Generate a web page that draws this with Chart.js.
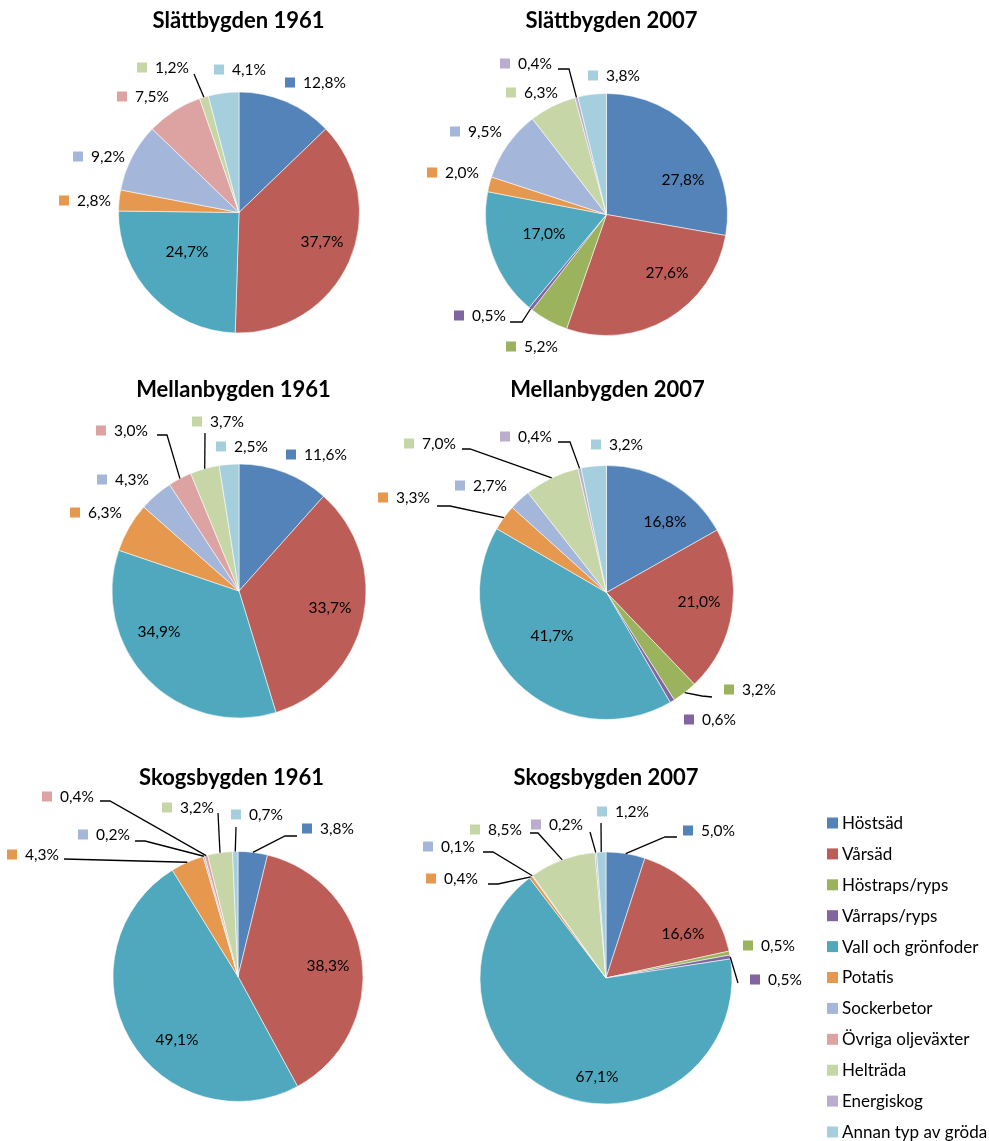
<!DOCTYPE html>
<html lang="sv">
<head>
<meta charset="utf-8">
<title>Grödor 1961 och 2007</title>
<script src="https://cdn.jsdelivr.net/npm/chart.js@4.4.1/dist/chart.umd.min.js"></script>
<style>
  html, body { margin: 0; padding: 0; background: #fff; }
  #wrap { position: relative; width: 989px; height: 1141px; }
  #wrap canvas { position: absolute; left: 0; top: 0; }
</style>
</head>
<body>
<div id="wrap"></div>
<script>
// kategorier och färger
const kategorier = ['Höstsäd', 'Vårsäd', 'Höstraps/ryps', 'Vårraps/ryps', 'Vall och grönfoder', 'Potatis',
  'Sockerbetor', 'Övriga oljeväxter', 'Helträda', 'Energiskog', 'Annan typ av gröda'];
const farger = ['#5383B8', '#BC5D57', '#9BB35D', '#8165A1', '#4FA8BD', '#E6984F',
  '#A4B6D9', '#DCA3A2', '#C6D6A6', '#BAADCD', '#A5CFDD'];

// andel av arealen (%), 0 = saknas
const slatt1961 = [12.8, 37.7, 0, 0, 24.7, 2.8, 9.2, 7.5, 1.2, 0, 4.1];
const slatt2007 = [27.8, 27.6, 5.2, 0.5, 17.0, 2.0, 9.5, 0, 6.3, 0.4, 3.8];
const mellan1961 = [11.6, 33.7, 0, 0, 34.9, 6.3, 4.3, 3.0, 3.7, 0, 2.5];
const mellan2007 = [16.8, 21.0, 3.2, 0.6, 41.7, 3.3, 2.7, 0, 7.0, 0.4, 3.2];
const skog1961 = [3.8, 38.3, 0, 0, 49.1, 4.3, 0.2, 0.4, 3.2, 0, 0.7];
const skog2007 = [5.0, 16.6, 0.5, 0.5, 67.1, 0.4, 0.1, 0, 8.5, 0.2, 1.2];

const W = 989, H = 1141;

// placering av varje cirkel, etiketter och hänvisningslinjer
const diagram = [
  {
    titel: 'Slättbygden 1961', data: slatt1961, cx: 239, cy: 212.5, r: 120.5, tx: 238.5, ty: 28,
    etiketter: {0: [285, 83], 1: [322, 242], 4: [187, 252], 5: [59, 201], 6: [73, 157], 7: [117, 97], 8: [137, 68], 10: [214, 70]},
    linjer: {8: [[194, 74]]}
  },
  {
    titel: 'Slättbygden 2007', data: slatt2007, cx: 606.5, cy: 214.5, r: 121, tx: 611.5, ty: 28,
    etiketter: {0: [683, 180], 1: [667, 273], 2: [506, 347], 3: [454, 316], 4: [544, 234], 5: [427, 173], 6: [450, 132], 8: [506, 93], 9: [500, 64], 10: [588, 76]},
    linjer: {3: [[510, 322], [522, 322]], 9: [[558, 69], [569, 69]]}
  },
  {
    titel: 'Mellanbygden 1961', data: mellan1961, cx: 239, cy: 591, r: 127, tx: 233.5, ty: 397,
    etiketter: {0: [286, 455], 1: [330, 608], 4: [159, 632], 5: [70, 513], 6: [97, 480], 7: [96, 431], 8: [192, 422], 10: [216, 447]},
    linjer: {7: [[157, 435], [167, 435]], 8: [[205, 433]]}
  },
  {
    titel: 'Mellanbygden 2007', data: mellan2007, cx: 606.5, cy: 592.5, r: 127, tx: 607.5, ty: 397,
    etiketter: {0: [665, 522], 1: [699, 602], 2: [724, 690], 3: [684, 720], 4: [552, 636], 5: [378, 498], 6: [455, 486], 8: [404, 444], 9: [500, 437], 10: [591, 445]},
    linjer: {2: [[712, 697], [702, 696]], 5: [[437, 506], [450, 506]], 8: [[462, 449], [470, 449]], 9: [[558, 442], [570, 442]]}
  },
  {
    titel: 'Skogsbygden 1961', data: skog1961, cx: 238, cy: 976.5, r: 125, tx: 231.5, ty: 785,
    etiketter: {0: [302, 829], 1: [328, 966], 4: [177, 1040], 5: [7, 855], 6: [78, 835], 7: [42, 797], 8: [162, 808], 10: [231, 815]},
    linjer: {0: [[297, 836], [285, 836]], 5: [[64, 859]], 6: [[135, 841], [145, 841]], 7: [[100, 801], [110, 801]], 8: [[218, 813]], 10: [[236, 827]]}
  },
  {
    titel: 'Skogsbygden 2007', data: skog2007, cx: 606, cy: 978, r: 126, tx: 606, ty: 785,
    etiketter: {0: [683, 831], 1: [683, 934], 2: [743, 946], 3: [750, 980], 4: [597, 1077], 5: [426, 879], 6: [423, 847], 8: [470, 830], 9: [531, 825], 10: [597, 812]},
    linjer: {0: [[677, 837], [665, 837]], 3: [[738, 983]], 5: [[488, 884], [498, 884]], 6: [[483, 852], [493, 852]], 8: [[530, 833], [538, 833]], 9: [[590, 832]], 10: [[601, 823]]},
    legend: true
  }
];

const FONT = 'Lato, "Open Sans", sans-serif';

function format(v) {
  return v.toFixed(1).replace('.', ',') + '%';
}

function etikettPlugin(cfg) {
  return {
    id: 'etiketter',
    afterDatasetsDraw(chart) {
      const ctx = chart.ctx;
      const meta = chart.getDatasetMeta(0);
      const values = chart.data.datasets[0].data;
      ctx.save();

      ctx.fillStyle = '#000';
      ctx.font = 'bold 22px ' + FONT;
      ctx.textAlign = 'center';
      ctx.textBaseline = 'alphabetic';
      ctx.fillText(cfg.titel, cfg.tx, cfg.ty);

      // hänvisningslinjer till mitten av sektorns kant
      ctx.strokeStyle = '#000';
      ctx.lineWidth = 1.3;
      Object.keys(cfg.linjer).forEach(i => {
        const pts = cfg.linjer[i];
        const a = meta.data[i].getProps(['x', 'y', 'startAngle', 'endAngle', 'outerRadius'], true);
        const mid = (a.startAngle + a.endAngle) / 2;
        ctx.beginPath();
        ctx.moveTo(pts[0][0], pts[0][1]);
        pts.slice(1).forEach(p => ctx.lineTo(p[0], p[1]));
        ctx.lineTo(a.x + Math.cos(mid) * a.outerRadius, a.y + Math.sin(mid) * a.outerRadius);
        ctx.stroke();
      });

      ctx.font = '15.5px ' + FONT;
      ctx.textBaseline = 'middle';
      values.forEach((v, i) => {
        if (!v) return;
        const p = cfg.etiketter[i];
        if (v >= 15) {
          ctx.textAlign = 'center';
          ctx.fillStyle = '#000';
          ctx.fillText(format(v), p[0], p[1]);
        } else {
          ctx.fillStyle = farger[i];
          ctx.fillRect(p[0], p[1] - 5.5, 10, 10);
          ctx.textAlign = 'left';
          ctx.fillStyle = '#000';
          ctx.fillText(format(v), p[0] + 18, p[1]);
        }
      });

      if (cfg.legend) {
        ctx.font = '17px ' + FONT;
        ctx.textAlign = 'left';
        chart.data.labels.forEach((lbl, i) => {
          const y = 823 + i * 30.9;
          ctx.fillStyle = farger[i];
          ctx.fillRect(827, y - 5.5, 11, 11);
          ctx.fillStyle = '#000';
          ctx.fillText(lbl, 842, y + 0.5);
        });
      }
      ctx.restore();
    }
  };
}

const wrap = document.getElementById('wrap');

diagram.forEach(cfg => {
  const canvas = document.createElement('canvas');
  canvas.width = W;
  canvas.height = H;
  canvas.style.width = W + 'px';
  canvas.style.height = H + 'px';
  wrap.appendChild(canvas);

  const half = cfg.r + 0.5;
  new Chart(canvas.getContext('2d'), {
    type: 'pie',
    data: {
      labels: kategorier,
      datasets: [{
        data: cfg.data,
        backgroundColor: farger,
        borderColor: 'rgba(255,255,255,0.55)',
        borderWidth: c => (c.raw > 0 ? 1 : 0)
      }]
    },
    options: {
      responsive: false,
      animation: false,
      events: [],
      layout: {
        padding: {
          left: cfg.cx - half,
          top: cfg.cy - half,
          right: W - (cfg.cx + half),
          bottom: H - (cfg.cy + half)
        }
      },
      plugins: {
        legend: { display: false },
        title: { display: false },
        tooltip: { enabled: false }
      }
    },
    plugins: [etikettPlugin(cfg)]
  });
});
</script>
</body>
</html>
